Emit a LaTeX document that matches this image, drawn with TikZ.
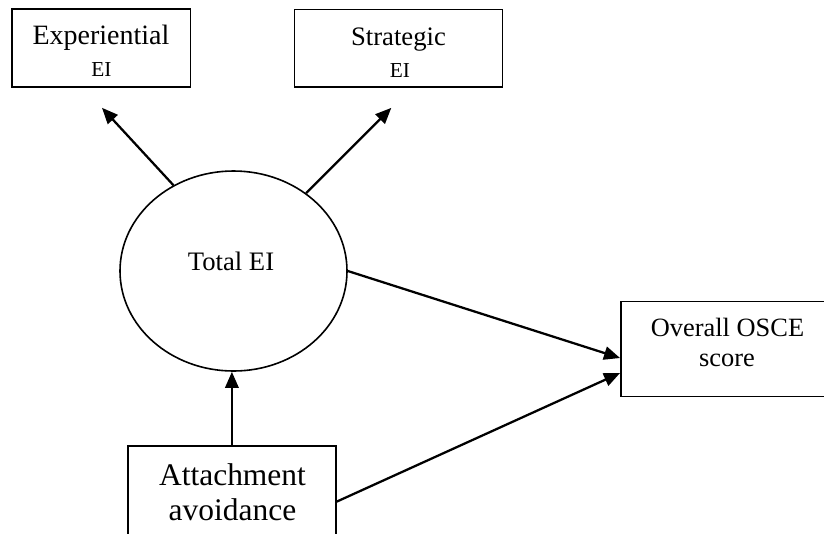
\documentclass[tikz,border=0pt]{standalone}
\usepackage{fontspec}
\setmainfont{Liberation Serif}
\usetikzlibrary{arrows.meta,calc,shapes.geometric}

\tikzset{
  box/.style={draw, line width=1.2pt, rectangle, inner sep=0pt},
  oval/.style={draw, line width=1.2pt, ellipse, inner sep=0pt},
  lbl/.style={anchor=base, inner sep=0pt},
  arr/.style={line width=1.7pt, -{Triangle[length=12pt,width=10pt]}},
}
\newcommand{\fsz}[1]{\fontsize{#1}{1.2\dimexpr#1\relax}\selectfont}

\begin{document}
\begin{tikzpicture}[x=0.75pt, y=-0.75pt]
  \useasboundingbox (0,0) rectangle (824,533);
  \clip (0,0) rectangle (824,533);

  % frames
  \node[box, minimum width=134pt, minimum height=58.5pt] (exp) at (101.3,48) {};
  \node[box, minimum width=156pt, minimum height=58.3pt] (str) at (398.3,48.2) {};
  \node[oval, minimum width=170.25pt, minimum height=150pt] (tot) at (233.5,271) {};
  \node[box, minimum width=160pt, minimum height=71pt] (osce) at (727.5,349) {};
  \node[box, minimum width=155.8pt, minimum height=84pt] (att) at (231.9,501.7) {};

  % labels
  \node[lbl, font=\fsz{21pt}] (expA) at (101,44.3) {Experiential};
  \node[lbl, font=\fsz{16pt}] (expB) at (101.5,76.5) {EI};
  \node[lbl, font=\fsz{20pt}] (strA) at (398.5,45) {Strategic};
  \node[lbl, font=\fsz{16pt}] (strB) at (400,77) {EI};
  \node[lbl, font=\fsz{20pt}] (totA) at (231,270) {Total EI};
  \node[lbl, font=\fsz{19.8pt}] (osA) at (727.5,336.7) {Overall OSCE};
  \node[lbl, font=\fsz{19.8pt}] (osB) at (727,366) {score};
  \node[lbl, font=\fsz{23.6pt}] (atA) at (232.5,485) {Attachment};
  \node[lbl, font=\fsz{23.6pt}] (atB) at (232.5,520) {avoidance};

  % arrow ends
  \coordinate (expIn) at ($(exp.south)+(0.7,20)$);
  \coordinate (strIn) at ($(str.south)+(-7,20)$);
  \coordinate (osIn1) at ($(osce.west)+(0,9)$);
  \coordinate (osIn2) at ($(osce.west)+(0,24)$);

  % paths
  \draw[arr] (tot.125.6) -- (expIn);
  \draw[arr] (tot.47) -- (strIn);
  \draw[arr] (att.north) -- (att.north |- tot.south);
  \draw[arr] (tot.east) -- (osIn1);
  \draw[arr] (att.east) -- (osIn2);
\end{tikzpicture}
\end{document}
